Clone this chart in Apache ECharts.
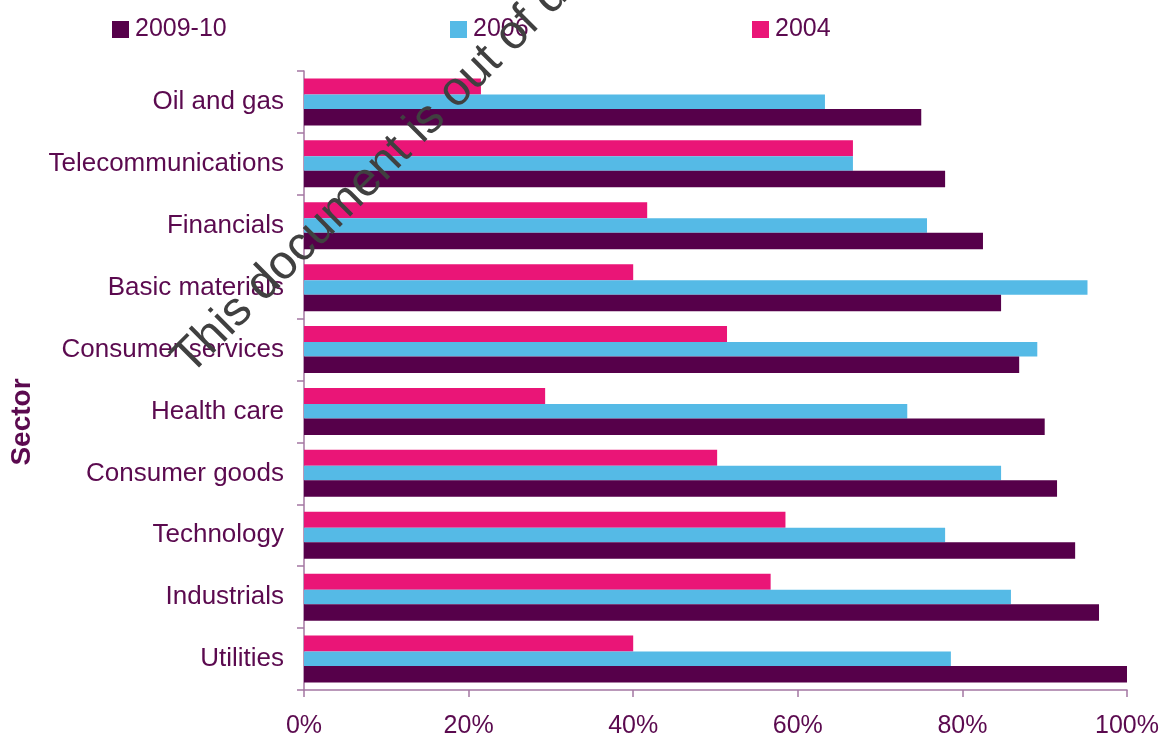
<!DOCTYPE html>
<html>
<head>
<meta charset="utf-8">
<script src="https://cdn.jsdelivr.net/npm/echarts@6/dist/echarts.min.js"></script>
<style>
  html, body { margin: 0; padding: 0; background: #ffffff; }
  #chart { width: 1163px; height: 738px; }
</style>
</head>
<body>
<div id="chart"></div>
<script>
const categories = ['Oil and gas', 'Telecommunications', 'Financials', 'Basic materials', 'Consumer services', 'Health care', 'Consumer goods', 'Technology', 'Industrials', 'Utilities'];
const values2004 = [21.5, 66.7, 41.7, 40.0, 51.4, 29.3, 50.2, 58.5, 56.7, 40.0];
const values2006 = [63.3, 66.7, 75.7, 95.2, 89.1, 73.3, 84.7, 77.9, 85.9, 78.6];
const values2009 = [75.0, 77.9, 82.5, 84.7, 86.9, 90.0, 91.5, 93.7, 96.6, 100];
const xTicks = [0, 20, 40, 60, 80, 100];

const TEXT = '#5b0a4f';
const AXIS = '#a477a2';
const FONT = '"Liberation Sans", Arial, sans-serif';
const C2009 = '#56004a';
const C2006 = '#55bae6';
const C2004 = '#ea1577';

const chart = echarts.init(document.getElementById('chart'), null, { renderer: 'canvas' });

function legendAt(name, left) {
  return {
    data: [name], left: left, top: 17, padding: 0,
    itemWidth: 17, itemHeight: 17, icon: 'rect', itemGap: 0,
    textStyle: { fontSize: 25, color: TEXT, fontFamily: FONT, padding: [0, 0, 0, 1] },
    selectedMode: false
  };
}

chart.setOption({
  backgroundColor: '#ffffff',
  animation: false,
  textStyle: { fontFamily: FONT },
  legend: [legendAt('2009-10', 112), legendAt('2006', 450), legendAt('2004', 752)],
  grid: { left: 304, right: 36, top: 71, bottom: 48, containLabel: false, outerBoundsMode: 'none' },
  xAxis: {
    type: 'value', min: xTicks[0], max: xTicks[xTicks.length - 1], interval: 20,
    axisLine: { show: true, lineStyle: { color: AXIS, width: 1.5 } },
    axisTick: { show: true, length: 7, lineStyle: { color: AXIS, width: 1.5 } },
    splitLine: { show: false },
    axisLabel: { fontSize: 25, color: TEXT, margin: 24, fontFamily: FONT,
      formatter: function (v) { return v + '%'; } }
  },
  yAxis: {
    type: 'category', data: categories, inverse: true,
    axisLine: { show: true, lineStyle: { color: AXIS, width: 1.5 } },
    axisTick: { show: true, length: 7, lineStyle: { color: AXIS, width: 1.5 } },
    axisLabel: { fontSize: 26, color: TEXT, margin: 20, fontFamily: FONT }
  },
  series: [
    { name: '2004', type: 'bar', data: values2004, barWidth: 16, barGap: 0, itemStyle: { color: C2004 } },
    { name: '2006', type: 'bar', data: values2006, barWidth: 14.5, barGap: 0, itemStyle: { color: C2006 } },
    { name: '2009-10', type: 'bar', data: values2009, barWidth: 16.5, barGap: 0, itemStyle: { color: C2009 } }
  ],
  graphic: [
    { type: 'text', x: 22, y: 422, rotation: Math.PI / 2, z: 100,
      style: { text: 'Sector', fill: TEXT, font: 'bold 28px ' + FONT, align: 'center', verticalAlign: 'middle' } },
    { type: 'text', x: 164, y: 350, rotation: Math.PI / 4, z: 100,
      style: { text: 'This document is out of date', fill: '#404040', font: '48px ' + FONT, align: 'left', verticalAlign: 'alphabetic' } }
  ]
});
</script>
</body>
</html>
